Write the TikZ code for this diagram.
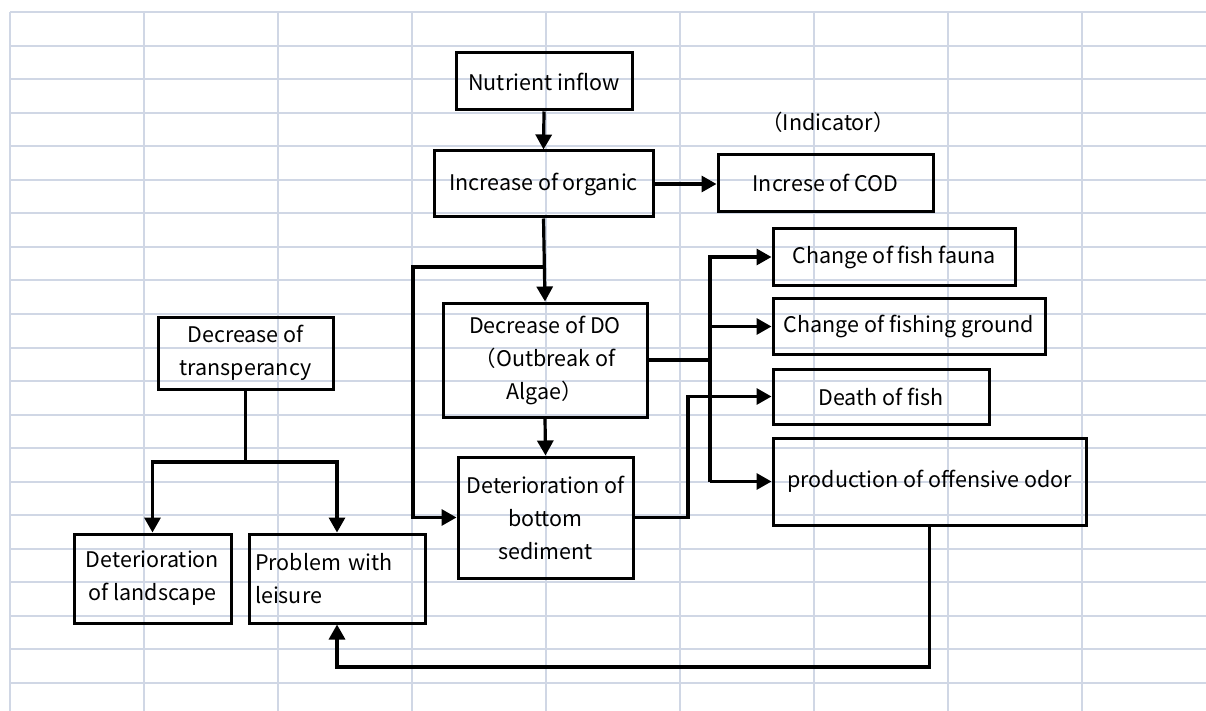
\documentclass[tikz,border=0pt]{standalone}
\usepackage{fontspec}
\setmainfont{Noto Sans CJK JP}
\usetikzlibrary{arrows.meta}
\definecolor{gridc}{HTML}{D0D7E5}
\tikzset{
  gridline/.style={draw=gridc, line width=2pt},
  txt/.style={font=\fontsize{21.5}{33}\selectfont},
  box/.style={draw, line width=3pt, inner sep=0pt, align=center, txt},
  conn/.style={line width=3.2pt},
  arr/.style={conn, -{Triangle[length=15pt,width=16pt]}},
}
\begin{document}
\begin{tikzpicture}[x=1pt,y=-1pt]
\useasboundingbox (0,0) rectangle (1206,711);
\fill[white] (0,0) rectangle (1206,711);
% spreadsheet grid
\foreach \i in {0,...,8} \draw[gridline] ({10+134*\i},12) -- ({10+134*\i},711);
\foreach \j in {0,...,20} \draw[gridline] (10,{12+33.55*\j}) -- (1206,{12+33.55*\j});

% nodes
\node[box, minimum width=176pt, minimum height=57pt] (nut) at (544,81.5) {Nutrient inflow};
\node[box, minimum width=219pt, minimum height=66pt] (org) at (543.5,184) {Increase of organic};
\node[box, minimum width=215pt, minimum height=57pt] (cod) at (825.5,183) {Increse of COD};
\node[txt, inner sep=0pt] (ind) at (828,122) {（Indicator）};
\node[box, minimum width=204pt, minimum height=114pt] (do) at (545,360) {Decrease of DO\\（Outbreak of\\Algae）};
\node[box, minimum width=175pt, minimum height=121pt] (sed) at (545.5,517.5) {Deterioration of\\bottom\\sediment};
\node[box, minimum width=242pt, minimum height=56pt] (fauna) at (894,257) {Change of fish fauna};
\node[box, minimum width=272pt, minimum height=56pt] (ground) at (909,326.5) {Change of fishing ground};
\node[box, minimum width=216pt, minimum height=55pt] (death) at (881,396.5) {Death of fish};
\node[box, minimum width=313pt, minimum height=87pt] (odor) at (929.5,481.5) {production of offensive odor};
\node[box, minimum width=175pt, minimum height=72pt] (transp) at (245.5,353) {Decrease of\\transperancy};
\node[box, minimum width=157pt, minimum height=89pt] (land) at (152.5,578.5) {Deterioration\\of landscape};
\node[box, minimum width=176pt, minimum height=89pt, align=left, text width=164pt] (leis) at (337,578.5) {Problem with\\leisure};

% helper coordinates
\coordinate (j1) at (544,267);
\coordinate (lft) at (413,267);
\coordinate (bx) at (710,0);
\coordinate (dx) at (688,0);
\coordinate (bot) at (0,667);
\coordinate (tj) at (245.5,462);

% connectors
\draw[arr] (nut.south) -- (org.north);
\draw[arr] (org.east) -- (org.east -| cod.west);
\draw[arr] (org.south) -- (do.north);
\draw[arr] (j1) -- (lft) |- (sed.west);
\draw[arr] (do.south) -- (sed.north);
\draw[conn] (do.east) -- (do.east -| bx);
\draw[arr] (odor.west -| bx) -- (fauna.west -| bx) -- (fauna.west);
\draw[arr] (ground.west -| bx) -- (ground.west);
\draw[arr] (odor.west -| bx) -- (odor.west);
\draw[arr] (sed.east) -| (dx |- death.west) -- (death.west);
\draw[arr] (odor.south) -- (odor.south |- bot) -| (leis.south);
\draw[conn] (transp.south) -- (tj);
\draw[arr] (tj) -| (land.north);
\draw[arr] (tj) -| (leis.north);
\end{tikzpicture}
\end{document}
